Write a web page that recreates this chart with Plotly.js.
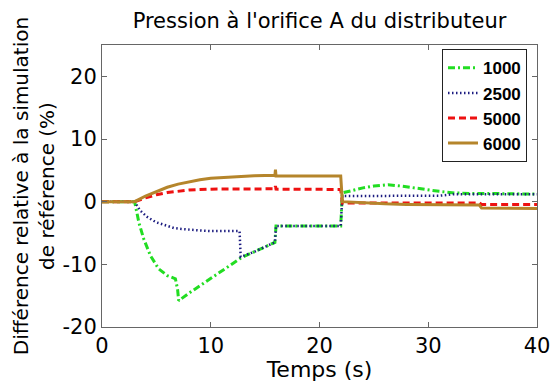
<!DOCTYPE html>
<html>
<head>
<meta charset="utf-8">
<script src="https://cdn.plot.ly/plotly-3.0.1.min.js"></script>
<style>html,body{margin:0;padding:0;background:#fff;}#chart{width:551px;height:382px;}</style>
</head>
<body>
<div id="chart"></div>
<script>
// Series names
const seriesNames = ['1000', '2500', '5000', '6000'];

// 1000
const time1000 = [0, 3, 3.4, 3.85, 4.45, 5.2, 6.0, 6.75, 6.95, 7.05, 8, 9, 10, 11, 12, 12.85, 14, 15, 15.9, 16.0, 18, 20, 21.95, 22.1, 23, 24, 25, 26.3, 27.5, 29, 30, 31, 32.4, 34, 36, 38, 40];
const val1000  = [0, 0, -3.4, -6.0, -8.6, -10.7, -11.8, -12.3, -14.0, -15.8, -14.6, -13.4, -12.2, -11.0, -9.9, -8.9, -8.0, -7.2, -6.5, -3.9, -3.9, -3.9, -3.9, 1.4, 1.8, 2.2, 2.5, 2.7, 2.5, 2.1, 1.9, 1.65, 1.4, 1.3, 1.3, 1.25, 1.2];

// 2500
const time2500 = [0, 3, 3.5, 4.2, 5.0, 5.8, 6.6, 7.3, 8.1, 9.0, 10, 11, 12, 12.65, 12.75, 14, 15, 15.9, 16.0, 18, 20, 21.95, 22.1, 25, 28, 31, 32.4, 35, 38, 40];
const val2500  = [0, 0, -1.4, -2.5, -3.3, -3.8, -4.2, -4.35, -4.5, -4.6, -4.7, -4.7, -4.7, -4.7, -8.8, -8.0, -7.2, -6.5, -3.9, -3.9, -3.9, -3.9, 0.9, 0.9, 0.9, 0.95, 1.2, 1.2, 1.2, 1.2];

// 5000
const time5000 = [0, 3, 4, 5, 6, 7, 8, 10, 12, 15.9, 15.95, 16.0, 21.95, 22.1, 25, 30, 34.7, 34.9, 40];
const val5000  = [0, 0, 0.6, 1.1, 1.45, 1.7, 1.85, 2.0, 2.05, 2.05, 2.5, 2.0, 1.95, -0.2, -0.2, -0.2, -0.2, -0.45, -0.45];

// 6000
const time6000 = [0, 3, 4, 5, 6, 7, 8, 9, 10, 12, 14, 15.9, 15.95, 16.0, 21.95, 22.1, 24, 26, 28, 30, 34.7, 34.9, 40];
const val6000  = [0, 0, 0.9, 1.6, 2.3, 2.8, 3.2, 3.5, 3.75, 4.0, 4.15, 4.2, 5.1, 4.1, 4.1, 0.0, -0.2, -0.35, -0.45, -0.5, -0.55, -1.0, -1.1];

const xTicks = [0, 10, 20, 30, 40];
const yTicks = [-20, -10, 0, 10, 20];

const styles = [
  {color: '#22dd22', width: 3, dash: '7px,3px,2px,3px'},
  {color: '#1c1c80', width: 2.5, dash: '1.5px,2.5px'},
  {color: '#ee1111', width: 3, dash: '7px,4px'},
  {color: '#b5852b', width: 3, dash: 'solid'}
];
const xs = [time1000, time2500, time5000, time6000];
const ys = [val1000, val2500, val5000, val6000];

const traces = seriesNames.map((n, i) => ({
  type: 'scatter', mode: 'lines', name: n,
  x: xs[i], y: ys[i],
  line: styles[i]
}));

const mainFont = 'DejaVu Sans, Liberation Sans, sans-serif';
const axisCommon = {
  showgrid: false, zeroline: false, showline: true, linecolor: '#666', linewidth: 1,
  mirror: 'ticks', ticks: 'inside', ticklen: 5, tickcolor: '#666', tickwidth: 1,
  ticklabeloverflow: 'allow',
  tickfont: {family: mainFont, size: 21, color: '#000'}
};

const layout = {
  width: 551, height: 382,
  margin: {l: 102, r: 14, t: 45, b: 55, pad: 0},
  paper_bgcolor: '#fff', plot_bgcolor: '#fff',
  showlegend: true,
  title: {
    text: "Pression à l'orifice A du distributeur",
    font: {family: mainFont, size: 21, color: '#000'},
    x: 0.5, xref: 'paper', xanchor: 'center',
    y: 0.947, yref: 'container', yanchor: 'middle'
  },
  xaxis: Object.assign({}, axisCommon, {
    range: [0, 40], tickvals: xTicks, ticktext: xTicks.map(String),
    title: {text: 'Temps (s)', font: {family: mainFont, size: 22, color: '#000'}, standoff: 1}
  }),
  yaxis: Object.assign({}, axisCommon, {
    range: [-20, 25], tickvals: yTicks, ticktext: yTicks.map(String),
    title: {text: 'Différence relative à la simulation<br>de référence (%)', font: {family: mainFont, size: 20, color: '#000'}, standoff: 2}
  }),
  legend: {
    x: 0.977, xanchor: 'right', y: 0.985, yanchor: 'top',
    bgcolor: '#fff', bordercolor: '#222', borderwidth: 1,
    font: {family: 'Liberation Sans, Arial, sans-serif', size: 17, weight: 'bold', color: '#000'},
    itemwidth: 30
  }
};

Plotly.newPlot('chart', traces, layout, {displayModeBar: false, staticPlot: true});
</script>
</body>
</html>
